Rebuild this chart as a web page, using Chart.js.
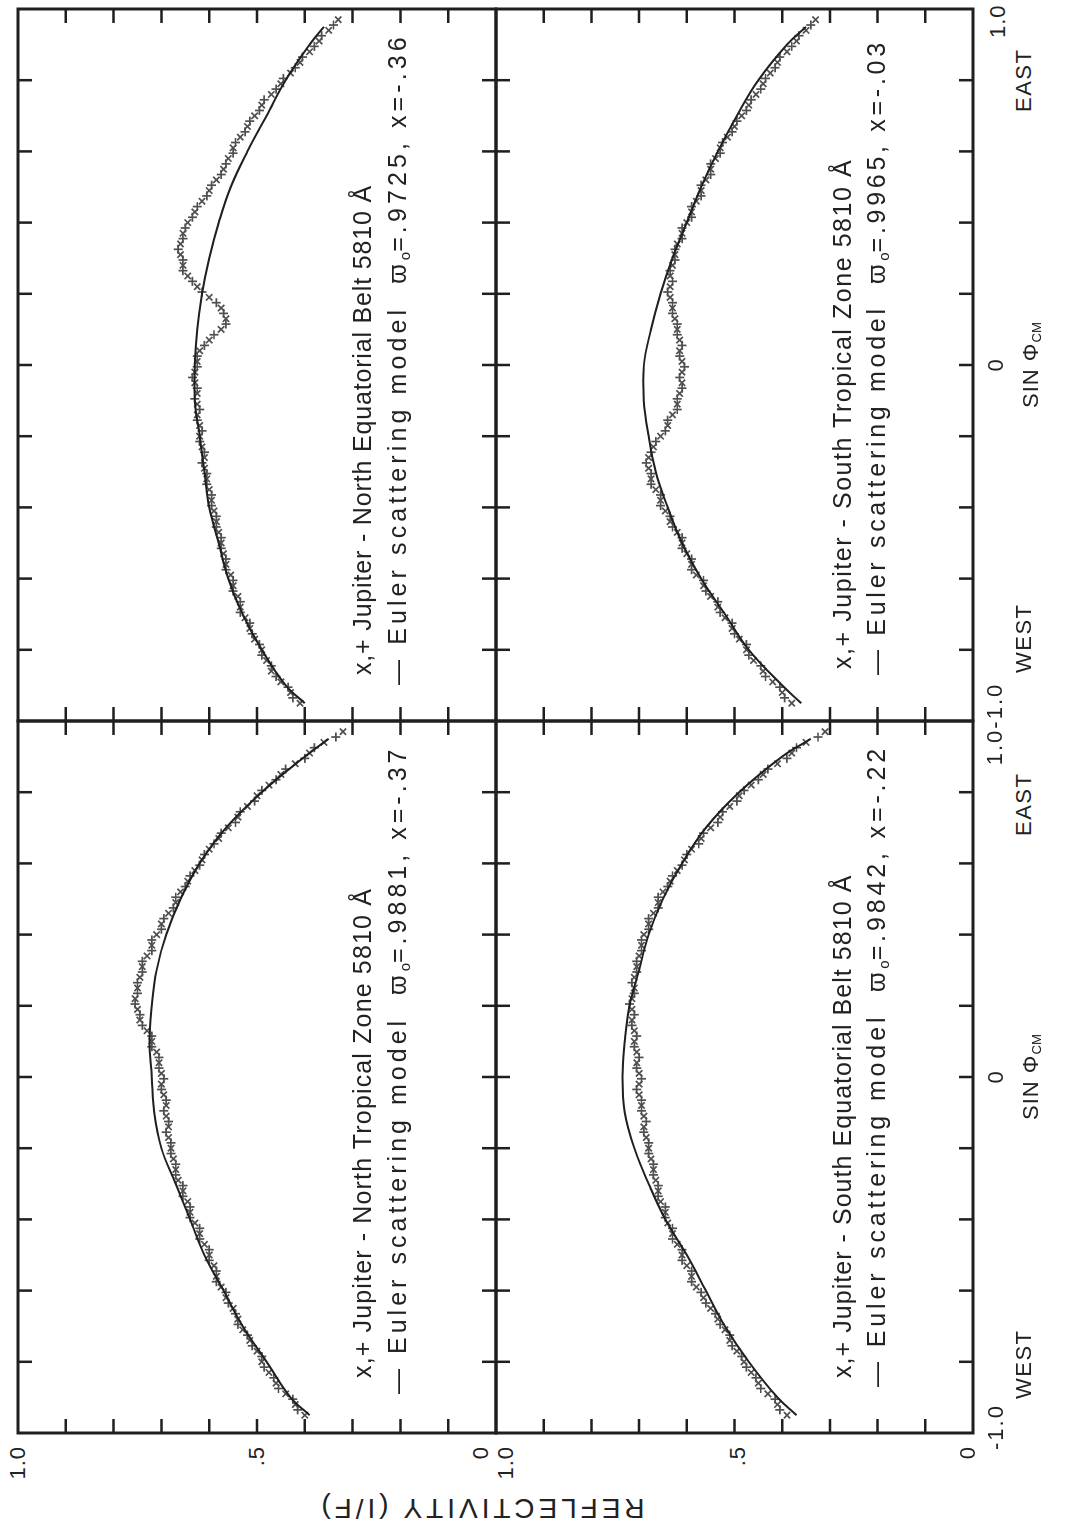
<!DOCTYPE html>
<html lang="en">
<head>
<meta charset="UTF-8">
<title>Jupiter limb profiles 5810 Å</title>
<script src="https://cdn.jsdelivr.net/npm/chart.js"></script>
<style>
  html, body { margin: 0; padding: 0; background: #fff; overflow: hidden; }
  body { width: 1070px; height: 1526px; position: relative; }
  /* figure is laid out landscape, then turned a quarter turn */
  #fig {
    position: absolute; left: 0; top: 0; width: 1526px; height: 1070px;
    transform-origin: 0 0; transform: translate(0, 1526px) rotate(-90deg);
    font-family: "Liberation Sans", "DejaVu Sans", sans-serif; color: #222;
  }
  .panel { position: absolute; }
  .lbl { position: absolute; white-space: nowrap; line-height: 1; }
  .tick { font-size: 22px; letter-spacing: 1px; }
  .dir { font-size: 22px; letter-spacing: 1.5px; }
  .leg { font-size: 25px; }
  sub { font-size: 60%; vertical-align: -0.25em; letter-spacing: 0; }
</style>
</head>
<body>
<div id="fig">
  <div class="panel" id="p_ntrz"><canvas id="c_ntrz"></canvas></div>
  <div class="panel" id="p_neb"><canvas id="c_neb"></canvas></div>
  <div class="panel" id="p_seb"><canvas id="c_seb"></canvas></div>
  <div class="panel" id="p_strz"><canvas id="c_strz"></canvas></div>

  <!-- reflectivity tick labels -->
  <div class="lbl tick" style="right:1446px; top:18px; transform:translateY(-50%)">1.0</div>
  <div class="lbl tick" style="right:1446px; top:257px; transform:translateY(-50%)">.5</div>
  <div class="lbl tick" style="right:1446px; top:481px; transform:translateY(-50%)">0</div>
  <div class="lbl tick" style="right:1446px; top:506px; transform:translateY(-50%)">1.0</div>
  <div class="lbl tick" style="right:1446px; top:738px; transform:translateY(-50%)">.5</div>
  <div class="lbl tick" style="right:1446px; top:968px; transform:translateY(-50%)">0</div>
  <div class="lbl" data-w="327" style="left:18px; top:481px; font-size:28px; transform:translate(-50%,-50%) rotate(-90deg)">REFLECTIVITY (I/F)</div>

  <!-- sin phi tick labels -->
  <div class="lbl tick" style="left:76px; top:985px; letter-spacing:2px">-1.0</div>
  <div class="lbl dir" style="left:127px; top:1013px">WEST</div>
  <div class="lbl tick" style="left:449px; top:985px; transform:translateX(-50%)">0</div>
  <div class="lbl tick" style="left:449px; top:1020px; transform:translateX(-50%)">SIN &Phi;<sub>CM</sub></div>
  <div class="lbl dir" style="left:690px; top:1013px">EAST</div>
  <div class="lbl tick" style="left:802px; top:984px; letter-spacing:2px; transform:translateX(-50%)">1.0-1.0</div>
  <div class="lbl dir" style="left:853px; top:1013px">WEST</div>
  <div class="lbl tick" style="left:1161px; top:985px; transform:translateX(-50%)">0</div>
  <div class="lbl tick" style="left:1161px; top:1020px; transform:translateX(-50%)">SIN &Phi;<sub>CM</sub></div>
  <div class="lbl dir" style="left:1414px; top:1013px">EAST</div>
  <div class="lbl tick" style="left:1488px; top:987px">1.0</div>

  <!-- panel captions -->
  <div class="lbl leg" data-w="490" style="left:148px; top:350px">x,+ Jupiter - North Tropical Zone 5810 Å</div>
  <div class="lbl leg" data-w="653" style="left:132px; top:385px">— Euler scattering model &nbsp;ϖ<sub>o</sub>=.9881, x=-.37</div>
  <div class="lbl leg" data-w="490" style="left:851px; top:350px">x,+ Jupiter - North Equatorial Belt 5810 Å</div>
  <div class="lbl leg" data-w="656" style="left:841px; top:385px">— Euler scattering model &nbsp;ϖ<sub>o</sub>=.9725, x=-.36</div>
  <div class="lbl leg" data-w="503" style="left:148px; top:830px">x,+ Jupiter - South Equatorial Belt 5810 Å</div>
  <div class="lbl leg" data-w="646" style="left:139px; top:864px">— Euler scattering model &nbsp;ϖ<sub>o</sub>=.9842, x=-.22</div>
  <div class="lbl leg" data-w="510" style="left:857px; top:830px">x,+ Jupiter - South Tropical Zone 5810 Å</div>
  <div class="lbl leg" data-w="640" style="left:851px; top:864px">— Euler scattering model &nbsp;ϖ<sub>o</sub>=.9965, x=-.03</div>
</div>

<script>
// sin(phi_CM) of the "x" samples
const sinX = [-0.95,-0.92,-0.89,-0.86,-0.83,-0.80,-0.77,-0.74,-0.71,-0.68,-0.65,-0.62,-0.59,-0.56,-0.53,
  -0.50,-0.47,-0.44,-0.41,-0.38,-0.35,-0.32,-0.29,-0.26,-0.23,-0.20,-0.17,-0.14,-0.11,-0.08,-0.05,-0.02,
  0.01,0.04,0.07,0.10,0.13,0.16,0.19,0.22,0.25,0.28,0.31,0.34,0.37,0.40,0.43,0.46,0.49,0.52,0.55,0.58,
  0.61,0.64,0.67,0.70,0.73,0.76,0.79,0.82,0.85,0.88,0.91,0.94,0.97];
// sin(phi_CM) of the "+" samples
const sinPlus = [-0.935,-0.905,-0.875,-0.845,-0.815,-0.785,-0.755,-0.725,-0.695,-0.665,-0.635,-0.605,-0.575,-0.545,
  -0.515,-0.485,-0.455,-0.425,-0.395,-0.365,-0.335,-0.305,-0.275,-0.245,-0.215,-0.185,-0.155,-0.125,-0.095,-0.065,
  -0.035,-0.005,0.025,0.055,0.085,0.115,0.145,0.175,0.205,0.235,0.265,0.295,0.325,0.355,0.385,0.415,0.445,0.475,
  0.505,0.535,0.565,0.595,0.625,0.655,0.685,0.715,0.745,0.775,0.805,0.835,0.865,0.895,0.925,0.955];
// sin(phi_CM) nodes of the model curves
const sinModel = [-0.95,-0.9,-0.8,-0.7,-0.6,-0.5,-0.4,-0.3,-0.2,-0.1,0,0.1,0.2,0.3,0.4,0.5,0.6,0.7,0.8,0.9,0.95];

// North Tropical Zone
const ntrzX = [.40,.42,.44,.46,.475,.49,.50,.515,.53,.54,.55,.565,.575,.585,.59,.60,.61,.62,.63,.64,.645,.655,.665,.67,.675,.68,.685,.685,.69,.69,.695,.70,
  .70,.705,.71,.72,.73,.745,.75,.755,.75,.745,.74,.73,.72,.71,.70,.685,.67,.66,.645,.63,.615,.60,.58,.56,.54,.52,.50,.475,.45,.42,.39,.36,.32];
const ntrzPlus = [.415,.425,.455,.465,.485,.49,.51,.52,.54,.545,.56,.565,.585,.585,.60,.60,.62,.62,.64,.64,.655,.655,.67,.67,.68,.68,.69,.685,.695,.69,
  .70,.695,.705,.705,.72,.72,.74,.745,.755,.75,.75,.74,.74,.72,.72,.70,.695,.675,.67,.65,.64,.62,.61,.59,.575,.545,.535,.505,.49,.46,.44,.40,.38,.335];
const ntrzModel = [.39,.43,.48,.53,.57,.61,.64,.67,.70,.715,.72,.725,.72,.71,.69,.66,.62,.565,.49,.40,.35];

// North Equatorial Belt
const nebX = [.41,.43,.45,.47,.48,.49,.505,.515,.525,.535,.54,.55,.555,.565,.57,.575,.58,.585,.59,.595,.60,.605,.61,.61,.615,.62,.62,.625,.625,.625,.63,.63,
  .625,.62,.60,.575,.565,.575,.60,.625,.645,.655,.66,.66,.655,.645,.63,.615,.60,.585,.57,.56,.55,.535,.52,.505,.49,.47,.45,.43,.41,.39,.37,.35,.33];
const nebPlus = [.425,.435,.46,.47,.49,.495,.51,.515,.535,.535,.55,.55,.565,.565,.575,.575,.585,.585,.595,.595,.605,.605,.615,.61,.62,.615,.625,.62,.63,.625,
  .635,.625,.625,.61,.59,.565,.57,.585,.615,.635,.655,.655,.665,.655,.65,.635,.625,.605,.595,.575,.565,.55,.545,.525,.515,.495,.485,.46,.445,.42,.405,.38,.365,.34];
const nebModel = [.40,.44,.49,.53,.56,.58,.60,.61,.62,.63,.63,.625,.615,.60,.58,.555,.52,.48,.44,.39,.36];

// South Equatorial Belt
const sebX = [.39,.41,.43,.45,.465,.48,.495,.51,.52,.535,.55,.565,.58,.59,.60,.61,.62,.63,.64,.645,.655,.66,.665,.67,.675,.68,.685,.69,.69,.695,.70,.70,
  .70,.705,.705,.71,.71,.715,.715,.715,.71,.71,.705,.70,.695,.69,.68,.67,.66,.65,.635,.62,.605,.59,.57,.55,.53,.51,.49,.465,.44,.41,.38,.35,.31];
const sebPlus = [.405,.415,.445,.455,.475,.485,.505,.51,.53,.54,.56,.57,.59,.59,.61,.61,.63,.63,.645,.645,.66,.66,.67,.67,.68,.68,.69,.685,.695,.695,
  .705,.695,.705,.70,.71,.705,.715,.71,.72,.71,.715,.705,.705,.695,.695,.68,.68,.66,.66,.64,.63,.61,.60,.575,.565,.535,.525,.495,.48,.45,.43,.39,.37,.325];
const sebModel = [.37,.41,.47,.52,.56,.60,.645,.68,.71,.73,.735,.73,.72,.70,.68,.65,.61,.56,.49,.40,.34];

// South Tropical Zone
const strzX = [.38,.40,.42,.44,.46,.475,.49,.505,.52,.535,.55,.565,.58,.59,.60,.61,.62,.635,.645,.655,.665,.675,.68,.68,.67,.655,.64,.63,.62,.615,.61,.61,
  .61,.615,.615,.62,.625,.63,.635,.635,.635,.63,.625,.62,.61,.60,.59,.58,.57,.56,.55,.54,.53,.515,.50,.485,.47,.455,.44,.425,.41,.39,.37,.35,.33];
const strzPlus = [.395,.405,.435,.445,.47,.475,.50,.505,.53,.535,.56,.565,.59,.59,.61,.61,.63,.635,.655,.655,.675,.675,.685,.675,.665,.645,.64,.62,.62,.61,
  .615,.605,.615,.61,.62,.62,.63,.63,.64,.63,.635,.625,.625,.61,.61,.59,.59,.57,.57,.55,.55,.53,.525,.505,.495,.475,.465,.445,.435,.415,.405,.38,.365,.34];
const strzModel = [.36,.40,.47,.52,.57,.61,.64,.665,.68,.69,.69,.675,.655,.63,.60,.57,.535,.495,.45,.39,.35];

// axis tick positions
const sinTicks = [-0.8,-0.6,-0.4,-0.2,0,0.2,0.4,0.6,0.8];
const reflTicks = [0.1,0.2,0.3,0.4,0.5,0.6,0.7,0.8,0.9];

const INK = '#1f1f1f';
const DOTS = '#4f4f4f';
const PAD = 12;
const TICK = 14;

// frame with inward ticks on all four sides
const frameTicks = {
  id: 'frameTicks',
  afterDraw(chart) {
    const { ctx, chartArea: a, scales: { x, y } } = chart;
    ctx.save();
    ctx.strokeStyle = INK;
    ctx.lineWidth = 2.5;
    ctx.beginPath();
    sinTicks.forEach(v => {
      const px = x.getPixelForValue(v);
      ctx.moveTo(px, a.top); ctx.lineTo(px, a.top + TICK);
      ctx.moveTo(px, a.bottom); ctx.lineTo(px, a.bottom - TICK);
    });
    reflTicks.forEach(v => {
      const py = y.getPixelForValue(v);
      ctx.moveTo(a.left, py); ctx.lineTo(a.left + TICK, py);
      ctx.moveTo(a.right, py); ctx.lineTo(a.right - TICK, py);
    });
    ctx.stroke();
    ctx.lineWidth = 3;
    ctx.strokeRect(a.left, a.top, a.right - a.left, a.bottom - a.top);
    ctx.restore();
  }
};

function pts(xs, ys) { return xs.map((s, i) => ({ x: s, y: ys[i] })); }

function panel(id, box, xMarks, plusMarks, model) {
  const wrap = document.getElementById('p_' + id);
  wrap.style.left = (box[0] - PAD) + 'px';
  wrap.style.top = (box[1] - PAD) + 'px';
  wrap.style.width = (box[2] + 2 * PAD) + 'px';
  wrap.style.height = (box[3] + 2 * PAD) + 'px';
  const marker = { showLine: false, borderColor: DOTS, backgroundColor: DOTS, pointRadius: 4.5, pointBorderWidth: 1.7, order: 1 };
  return new Chart(document.getElementById('c_' + id), {
    type: 'scatter',
    data: {
      datasets: [
        { label: 'model', data: pts(sinModel, model), showLine: true, pointRadius: 0, borderColor: INK, borderWidth: 2, tension: 0.4, order: 0 },
        Object.assign({ label: 'x', data: pts(sinX, xMarks), pointStyle: 'crossRot' }, marker),
        Object.assign({ label: '+', data: pts(sinPlus, plusMarks), pointStyle: 'cross' }, marker)
      ]
    },
    options: {
      responsive: true,
      maintainAspectRatio: false,
      animation: false,
      layout: { padding: PAD },
      scales: {
        x: { type: 'linear', min: -1, max: 1, display: false },
        y: { type: 'linear', min: 0, max: 1, display: false }
      },
      plugins: { legend: { display: false }, tooltip: { enabled: false } }
    },
    plugins: [frameTicks]
  });
}

panel('ntrz', [93, 18, 712, 478], ntrzX, ntrzPlus, ntrzModel);
panel('neb', [805, 18, 712, 478], nebX, nebPlus, nebModel);
panel('seb', [93, 496, 712, 477], sebX, sebPlus, sebModel);
panel('strz', [805, 496, 712, 477], strzX, strzPlus, strzModel);

// spread caption lettering over its drawn length
function fitCaptions() {
  document.querySelectorAll('[data-w]').forEach(el => {
    el.style.letterSpacing = '0px';
    const extra = (+el.dataset.w - el.offsetWidth) / el.textContent.length;
    el.style.letterSpacing = extra.toFixed(2) + 'px';
  });
}
fitCaptions();
document.fonts.ready.then(fitCaptions);
</script>
</body>
</html>
